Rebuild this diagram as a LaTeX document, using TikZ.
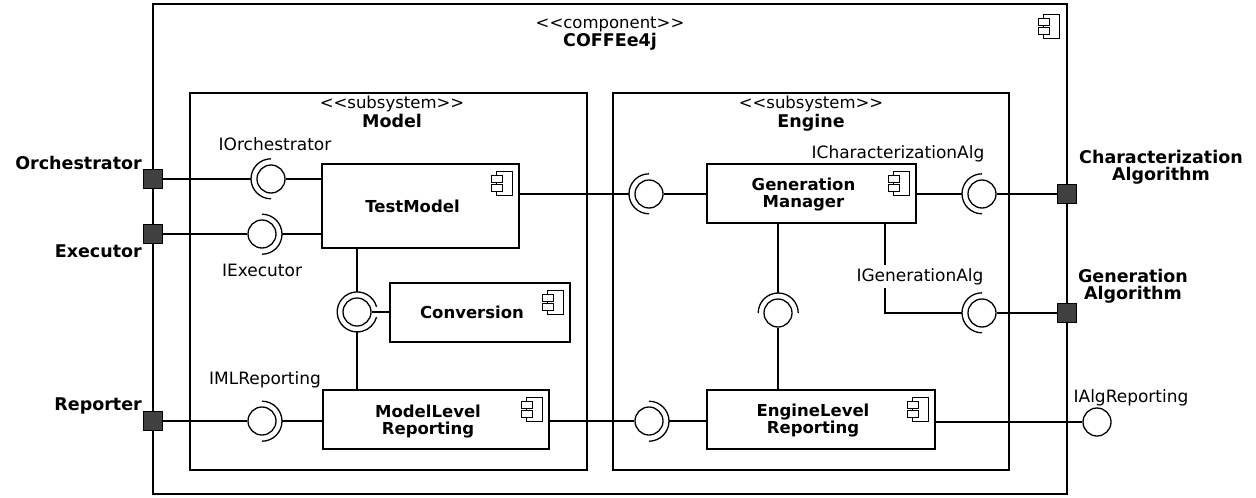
\documentclass[tikz,border=0pt]{standalone}
\usepackage{fontspec}
\setmainfont{DejaVu Sans}
\usetikzlibrary{calc}
\definecolor{portfill}{HTML}{404040}
\newcommand{\ster}[1]{<\kern0pt<#1>\kern0pt>}
\newcommand{\sock}[3]{\draw[conn] (#1.#2) arc[start angle=#2, end angle=#3, radius=20pt];}

\begin{document}
\begin{tikzpicture}[x=1pt,y=-1pt,
    box/.style={draw,line width=1.5pt,inner sep=0pt},
    comp/.style={box,fill=white},
    cname/.style={font=\fontsize{16.5}{17.5}\selectfont\bfseries,align=center,inner sep=0pt,xshift=-8pt},
    txt/.style={font=\fontsize{17}{18}\selectfont,inner sep=0pt},
    stxt/.style={font=\fontsize{16.5}{18}\selectfont,inner sep=0pt},
    btxt/.style={font=\fontsize{17.5}{18}\selectfont\bfseries,inner sep=0pt},
    ptxt/.style={font=\fontsize{17.5}{17.5}\selectfont\bfseries,align=center,inner sep=0pt},
    port/.style={draw,line width=1pt,fill=portfill,minimum size=19pt,inner sep=0pt},
    ball/.style={circle,draw,line width=1.3pt,fill=white,minimum size=28pt,inner sep=0pt},
    socket/.style={circle,minimum size=40pt,inner sep=0pt},
    conn/.style={line width=1.3pt},
    compicon/.pic={
      \draw[line width=1pt] (-16,0) rectangle (0,24);
      \draw[line width=1pt,fill=white] (-21,4) rectangle (-10,11) (-21,13) rectangle (-10,20);
    }]
  \useasboundingbox (0,0) rectangle (1256,498);

  % outer component and subsystems
  \node[box,minimum width=914pt,minimum height=490pt] (coffee) at (610,249) {};
  \pic at ([xshift=-8pt,yshift=-11pt]coffee.north east) {compicon};
  \node[stxt,anchor=base] at (610,28) {\ster{component}};
  \node[btxt,anchor=base] at (610,46) {COFFEe4j};

  \node[box,minimum width=397pt,minimum height=377pt] (model) at (388.5,281.5) {};
  \node[stxt,anchor=base] at (392,108) {\ster{subsystem}};
  \node[btxt,anchor=base] at (392,127) {Model};

  \node[box,minimum width=396pt,minimum height=377pt] (engine) at (811,281.5) {};
  \node[stxt,anchor=base] at (811,108) {\ster{subsystem}};
  \node[btxt,anchor=base] at (811,127) {Engine};

  % components
  \node[comp,minimum width=197pt,minimum height=84pt,label={[cname]center:TestModel}] (tm) at (420.5,206) {};
  \node[comp,minimum width=180pt,minimum height=59pt,label={[cname]center:Conversion}] (conv) at (480,312.5) {};
  \node[comp,minimum width=226pt,minimum height=59pt,label={[cname,yshift=-2pt]center:ModelLevel\\Reporting}] (mlr) at (436,419.5) {};
  \node[comp,minimum width=209pt,minimum height=59pt,label={[cname,yshift=-1pt]center:Generation\\Manager}] (gm) at (811.5,193.5) {};
  \node[comp,minimum width=228pt,minimum height=59pt,label={[cname,yshift=-1pt]center:EngineLevel\\Reporting}] (elr) at (821,419.5) {};
  \foreach \c in {tm,conv,mlr,gm,elr}
    \pic at ([xshift=-7pt,yshift=-8pt]\c.north east) {compicon};

  % ports
  \node[port] (pOrch) at (153,179) {};
  \node[port] (pExec) at (153,234) {};
  \node[port] (pRep) at (153,421) {};
  \node[port] (pChar) at (1067,194) {};
  \node[port] (pGen) at (1067,313) {};

  % balls and sockets
  \node[socket] (sOrch) at (271,179) {};  \node[ball] (bOrch) at (271,179) {};
  \node[socket] (sExec) at (262,234) {};  \node[ball] (bExec) at (262,234) {};
  \node[socket] (sRep) at (262,421) {};   \node[ball] (bRep) at (262,421) {};
  \node[socket] (sConv) at (357,312) {};  \node[ball] (bConv) at (357,312) {};
  \node[socket] (sTM) at (649,194) {};    \node[ball] (bTM) at (649,194) {};
  \node[socket] (sMLR) at (649,421) {};   \node[ball] (bMLR) at (649,421) {};
  \node[socket] (sEng) at (778,313) {};   \node[ball] (bEng) at (778,313) {};
  \node[socket] (sChar) at (982,194) {};  \node[ball] (bChar) at (982,194) {};
  \node[socket] (sGen) at (982,313) {};   \node[ball] (bGen) at (982,313) {};
  \node[ball] (bAlg) at (1097,422) {};
  \coordinate (genBend) at (885,313);

  \sock{sOrch}{90}{270}
  \sock{sExec}{-90}{90}
  \sock{sRep}{-90}{90}
  \sock{sConv}{15}{345}
  \sock{sTM}{90}{270}
  \sock{sMLR}{-90}{90}
  \sock{sEng}{0}{180}
  \sock{sChar}{90}{270}
  \sock{sGen}{90}{270}

  % connectors
  \draw[conn] (pOrch) -- (sOrch);
  \draw[conn] (bOrch) -- (bOrch -| tm.west);
  \draw[conn] (pExec) -- (bExec);
  \draw[conn] (sExec) -- (sExec -| tm.west);
  \draw[conn] (pRep) -- (bRep);
  \draw[conn] (sRep) -- (sRep -| mlr.west);
  \draw[conn] (sConv |- tm.south) -- (sConv);
  \draw[conn] (bConv) -- (bConv -| conv.west);
  \draw[conn] (sConv) -- (sConv |- mlr.north);
  \draw[conn] (sTM -| tm.east) -- (sTM);
  \draw[conn] (bTM) -- (bTM -| gm.west);
  \draw[conn] (bMLR -| mlr.east) -- (bMLR);
  \draw[conn] (sMLR) -- (sMLR -| elr.west);
  \draw[conn] (sEng |- gm.south) -- (sEng);
  \draw[conn] (bEng) -- (bEng |- elr.north);
  \draw[conn] (sChar -| gm.east) -- (sChar);
  \draw[conn] (bChar) -- (pChar);
  \draw[conn] (genBend |- gm.south) -- (genBend) -- (sGen);
  \draw[conn] (bGen) -- (pGen);
  \draw[conn] (bAlg -| elr.east) -- (bAlg);

  % interface labels
  \node[txt,anchor=base] at (275,150) {IOrchestrator};
  \node[txt,anchor=base] at (262,276) {IExecutor};
  \node[txt,anchor=base] at (265,384) {IMLReporting};
  \node[txt,anchor=base] at (898,158) {ICharacterizationAlg};
  \node[txt,anchor=base,fill=white,inner xsep=1pt,inner ysep=3pt] at (920,281) {IGenerationAlg};
  \node[txt,anchor=base] at (1131,402) {IAlgReporting};

  % port labels
  \node[ptxt,anchor=base east] at (142,169) {Orchestrator};
  \node[ptxt,anchor=base east] at (142,257) {Executor};
  \node[ptxt,anchor=base east] at (142,410) {Reporter};
  \node[ptxt] at (1161,167) {Characterization\\Algorithm};
  \node[ptxt] at (1133,286) {Generation\\Algorithm};
\end{tikzpicture}
\end{document}
